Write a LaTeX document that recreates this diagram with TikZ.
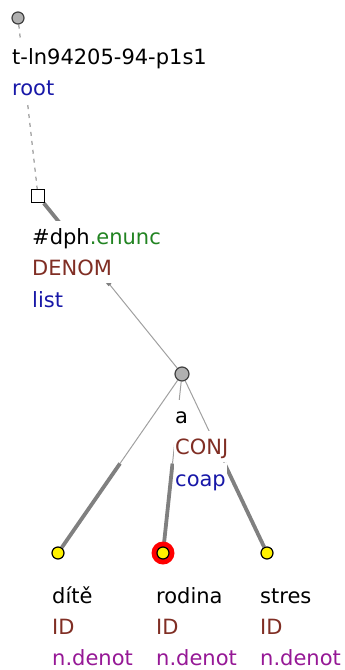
\documentclass[tikz,border=0pt]{standalone}
\usepackage{fontspec}
\setmainfont{DejaVu Sans}
\usetikzlibrary{calc}
\pgfdeclarelayer{background}
\pgfsetlayers{background,main}
\definecolor{funcbrown}{RGB}{128,46,36}
\definecolor{kindblue}{RGB}{24,24,168}
\definecolor{enuncgreen}{RGB}{34,132,34}
\definecolor{semviolet}{RGB}{150,24,150}
\definecolor{thinedge}{RGB}{160,160,160}
\definecolor{thickedge}{RGB}{128,128,128}

\begin{document}
\begin{tikzpicture}[x=1pt,y=-1pt,
			greynode/.style={circle, draw={rgb,255:red,64;green,64;blue,64}, fill={rgb,255:red,176;green,176;blue,176}, line width=1.2pt, inner sep=0pt, minimum size=12pt},
			sqnode/.style={rectangle, draw=black, fill=white, line width=1.4pt, inner sep=0pt, minimum size=13pt},
			leafnode/.style={circle, draw=black, fill=yellow, line width=1.2pt, inner sep=0pt, minimum size=12pt},
			labeltext/.style={anchor=base west, fill=white, inner xsep=1pt, inner ysep=0pt, text height=23pt, text depth=8pt, font=\fontsize{21}{26}\selectfont},
			thinline/.style={draw=thinedge, line width=1pt},
			thickline/.style={draw=thickedge, line width=3.8pt},
			]
			\useasboundingbox (0,0) rectangle (345,670);
			%Nodes
			\node[greynode]      (root)      at 	(18,18)      {};
			\node[sqnode]        (dph)       at 	(38,196)     {};
			\node[greynode, minimum size=14pt]      (conj)      at 	(182,374)    {};
			\node[circle, fill=red, inner sep=0pt, minimum size=23pt]      (halo)      at 	(163,553)    {};
			\node[leafnode]      (dite)      at 	(58,553)     {};
			\node[leafnode]      (rodina)    at 	(163,553)    {};
			\node[leafnode]      (stres)     at 	(267,553)    {};
			
			%Labels
			\node[labeltext]                     (rootid)    at 	(11,64)      {t-ln94205-94-p1s1};
			\node[labeltext, text=kindblue]      (rootfun)   at 	(11,95)      {root};
			\node[labeltext]                     (dphlemma)  at 	(31,244)     {\#dph\textcolor{enuncgreen}{.enunc}};
			\node[labeltext, text=funcbrown]     (dphfun)    at 	(31,275)     {DENOM};
			\node[labeltext, text=kindblue]      (dphkind)   at 	(31,307)     {list};
			\node[labeltext]                     (conjlemma) at 	(174,423)    {a};
			\node[labeltext, text=funcbrown]     (conjfun)   at 	(174,454)    {CONJ};
			\node[labeltext, text=kindblue]      (conjkind)  at 	(174,486)    {coap};
			\node[labeltext]                     (ditelemma) at 	(51,603)     {dítě};
			\node[labeltext, text=funcbrown]     (ditefun)   at 	(51,634)     {ID};
			\node[labeltext, text=semviolet]     (ditesem)   at 	(51,665)     {n.denot};
			\node[labeltext]                     (rodlemma)  at 	(155,603)    {rodina};
			\node[labeltext, text=funcbrown]     (rodfun)    at 	(155,634)    {ID};
			\node[labeltext, text=semviolet]     (rodsem)    at 	(155,665)    {n.denot};
			\node[labeltext]                     (streslemma) at 	(259,603)    {stres};
			\node[labeltext, text=funcbrown]     (stresfun)  at 	(259,634)    {ID};
			\node[labeltext, text=semviolet]     (stressem)  at 	(259,665)    {n.denot};
			
			\coordinate (mdph)    at ($(conj)!0.5!(dph)$);
			\coordinate (mdite)   at ($(conj)!0.5!(dite)$);
			\coordinate (mrodina) at ($(conj)!0.5!(rodina)$);
			\coordinate (mstres)  at ($(conj)!0.5!(stres)$);
			
			\begin{pgfonlayer}{background}
			%Lines
			\draw[thinline, draw=thickedge, dash pattern=on 4pt off 5pt] (root) -- (dph);
			\draw[thinline] (conj) -- (mdph);
			\draw[thickline] (mdph) -- (dph);
			\draw[thinline] (conj) -- (mdite);
			\draw[thickline] (mdite) -- (dite);
			\draw[thinline] (conj) -- (mrodina);
			\draw[thickline] (mrodina) -- (rodina);
			\draw[thinline] (conj) -- (mstres);
			\draw[thickline] (mstres) -- (stres);
			\end{pgfonlayer}
		\end{tikzpicture}
\end{document}
